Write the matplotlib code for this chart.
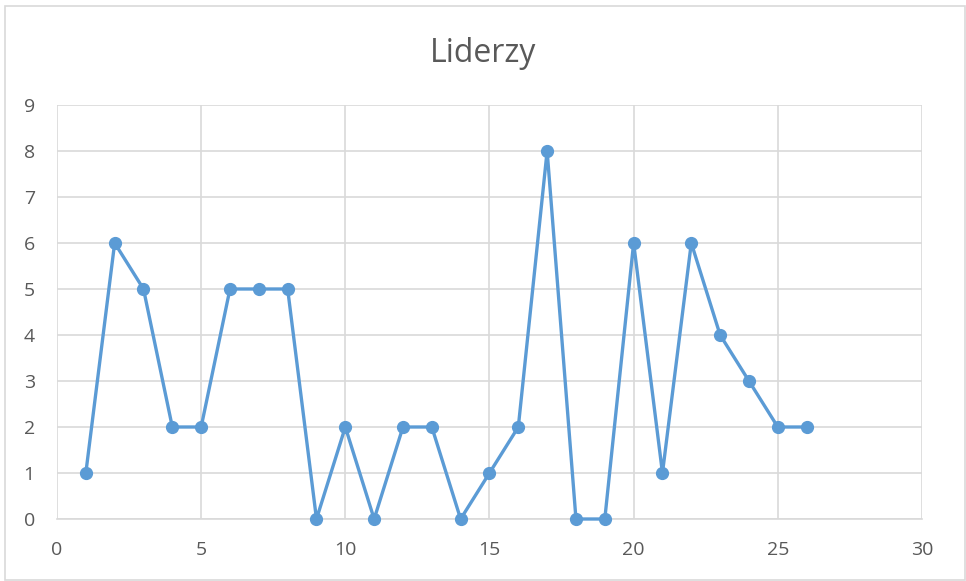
from matplotlib import pyplot as plt
from matplotlib.patches import Rectangle

x_vals = list(range(1, 27))
y_vals = [1, 6, 5, 2, 2, 5, 5, 5, 0, 2, 0, 2, 2, 0, 1, 2, 8, 0, 0, 6, 1, 6, 4, 3, 2, 2]
title = "Liderzy"

line_color = "#5B9BD5"
grid_color = "#D9D9D9"
text_color = "#595959"


def main():
    plt.rcParams['font.family'] = ['Open Sans', 'DejaVu Sans']
    fig = plt.figure(figsize=(9.66, 5.81), dpi=100)
    ax = fig.add_axes([0.059, 0.1067, 0.8954, 0.7126])

    ax.plot(x_vals, y_vals, color=line_color, lw=2.4, marker='o', ms=8.5,
            zorder=3, clip_on=False)

    ax.set_xlim(0, 30)
    ax.set_ylim(0, 9)
    ax.set_xticks(range(0, 31, 5))
    ax.set_yticks(range(0, 10))
    ax.grid(True, color=grid_color, lw=1.2)
    ax.set_axisbelow(True)
    for side in ['top', 'right', 'left']:
        ax.spines[side].set_visible(False)
    ax.spines['bottom'].set_color(grid_color)
    ax.spines['bottom'].set_linewidth(1.2)
    ax.tick_params(length=0, labelsize=14, colors=text_color, pad=16)

    fig.text(0.5, 0.8933, title, ha='center', va='baseline', fontsize=23,
             color=text_color)

    # thin frame around the whole chart
    fig.patches.append(Rectangle((0.0052, 0.002), 0.9935, 0.9877, transform=fig.transFigure,
                                 fill=False, edgecolor=grid_color, lw=1.2))

    plt.savefig('out.png', dpi=100)


if __name__ == "__main__":
    main()
